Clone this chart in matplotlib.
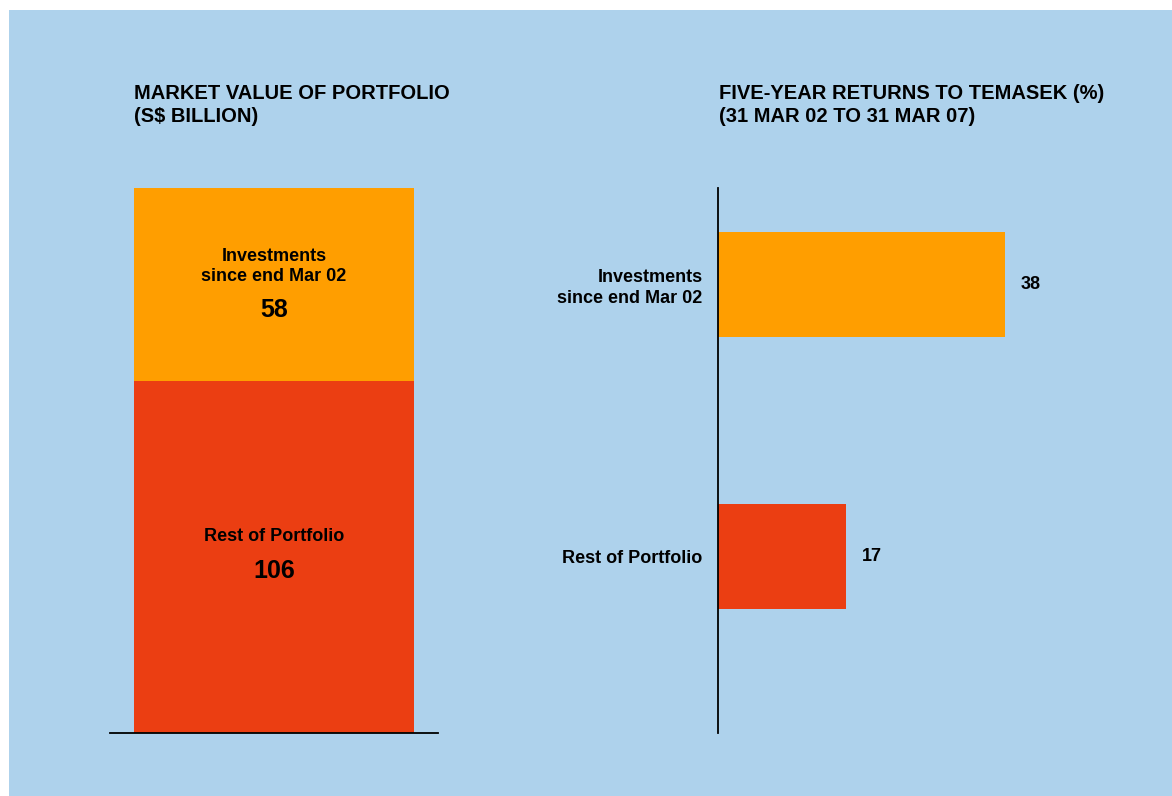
import matplotlib.pyplot as plt
from matplotlib.patches import Rectangle

# data
stack_labels = ["Rest of Portfolio", "Investments\nsince end Mar 02"]
stack_values = [106, 58]
return_labels = ["Rest of Portfolio", "Investments\nsince end Mar 02"]
return_values = [17, 38]

BG = "#aed2ec"
ORANGE = "#ff9e00"
RED = "#eb3e12"
W, H = 1172, 796

plt.rcParams['font.family'] = ['Liberation Sans', 'DejaVu Sans']
plt.rcParams['font.weight'] = 'bold'

fig = plt.figure(figsize=(W / 100, H / 100), dpi=100, facecolor="white")


def fx(px):
    return px / W


def fy(py):
    return 1 - py / H


# light blue panel behind everything
fig.patches.append(Rectangle((fx(9), 0), 1 - fx(9), fy(10), transform=fig.transFigure,
                             facecolor=BG, edgecolor="none", zorder=-10))

## left: stacked bar
ax1 = fig.add_axes([fx(110), fy(733), fx(328), fy(188) - fy(733)])
ax1.set_facecolor("none")
bottom = 0
colors = [RED, ORANGE]
# (label offset, number offset) in points from segment middle
offsets = [(15, -10), (12.6, -18.4)]
for lab, val, col, (lo, no) in zip(stack_labels, stack_values, colors, offsets):
    ax1.bar(0, val, bottom=bottom, width=280 / 328, color=col, linewidth=0)
    mid = bottom + val / 2
    ax1.annotate(lab, (0, mid), xytext=(0, lo), textcoords="offset points",
                 ha="center", va="center", fontsize=13, linespacing=1.25)
    ax1.annotate(str(val), (0, mid), xytext=(0, no), textcoords="offset points",
                 ha="center", va="center", fontsize=18)
    bottom += val
ax1.set_xlim(-0.5, 0.5)
ax1.set_ylim(0, sum(stack_values))
for s in ["top", "right", "left"]:
    ax1.spines[s].set_visible(False)
ax1.spines["bottom"].set_linewidth(1.3)
ax1.set_xticks([])
ax1.set_yticks([])

## right: horizontal bars
ax2 = fig.add_axes([fx(718), fy(733), fx(400), fy(188) - fy(733)])
ax2.set_facecolor("none")
ypos = [0, 1]
ax2.barh(ypos, return_values, height=105 / 272, color=[RED, ORANGE], linewidth=0)
for y, v in zip(ypos, return_values):
    ax2.annotate(str(v), (v, y), xytext=(11, 0), textcoords="offset points",
                 ha="left", va="center", fontsize=13)
ax2.set_ylim(-176.5 / 272, 1 + 96.5 / 272)
ax2.set_xlim(0, 400 / 7.55)
for s in ["top", "right", "bottom"]:
    ax2.spines[s].set_visible(False)
ax2.spines["left"].set_linewidth(1.3)
ax2.set_xticks([])
ax2.set_yticks(ypos)
ax2.set_yticklabels(return_labels, fontsize=13, linespacing=1.25)
ax2.tick_params(axis="y", length=0, pad=11)

## titles
fig.text(fx(134), fy(105), "MARKET VALUE OF PORTFOLIO\n(S$ BILLION)", ha="left", va="center",
         fontsize=14.5, linespacing=1.3)
fig.text(fx(719), fy(105), "FIVE-YEAR RETURNS TO TEMASEK (%)\n(31 MAR 02 TO 31 MAR 07)",
         ha="left", va="center", fontsize=14.5, linespacing=1.3)

fig.savefig("out.png", dpi=100, facecolor="white")
